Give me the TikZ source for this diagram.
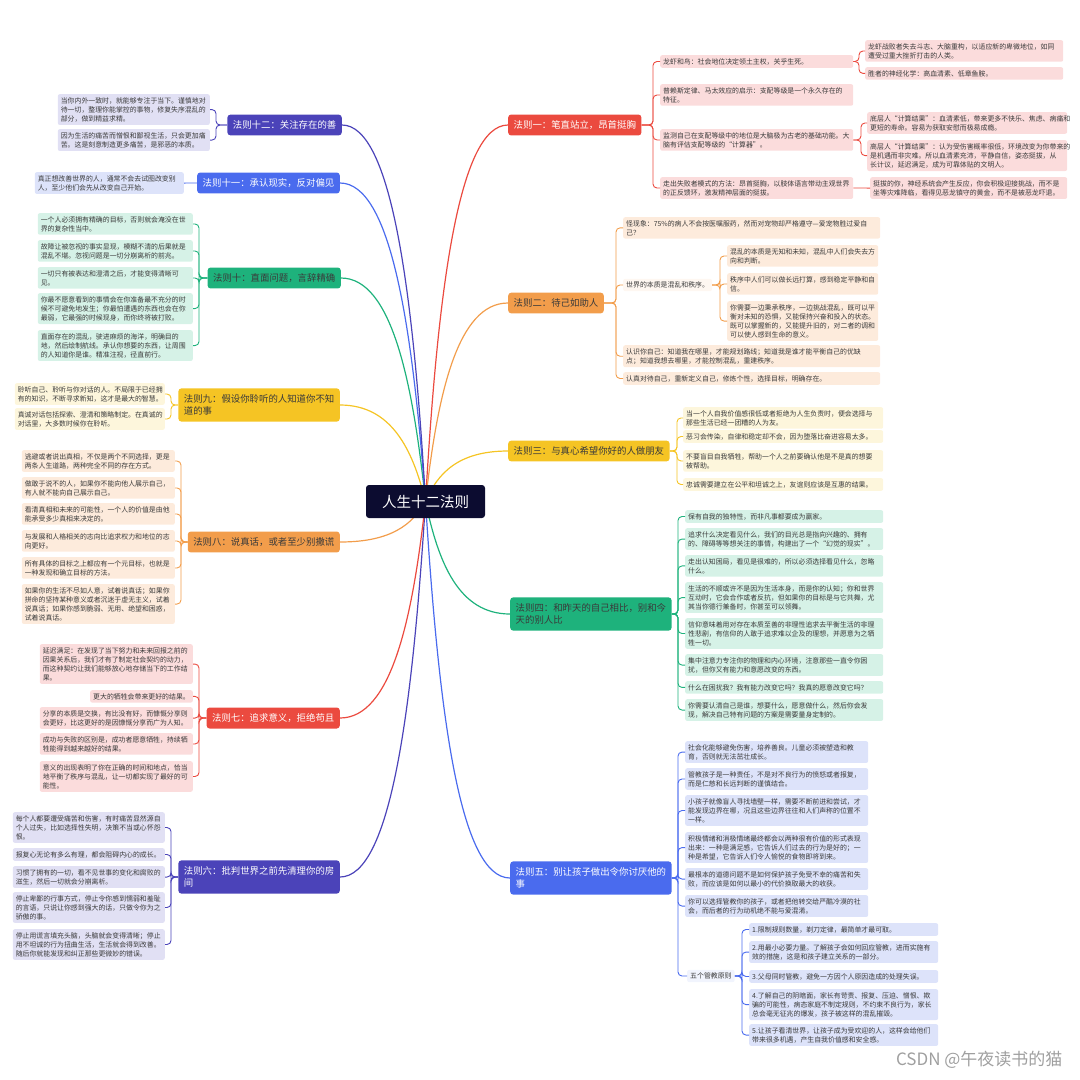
\documentclass[tikz,border=0pt]{standalone}
\usepackage{fontspec}
\setmainfont{Noto Sans CJK SC}
\usepackage{tikz}
\usetikzlibrary{backgrounds}

\definecolor{rootbg}{HTML}{0C0C30}
\definecolor{cred}{HTML}{EB4A3F}
\definecolor{cora}{HTML}{F29D4B}
\definecolor{cyel}{HTML}{F5C424}
\definecolor{cgrn}{HTML}{1EB27C}
\definecolor{cblu}{HTML}{4A6BEE}
\definecolor{cind}{HTML}{4B43B9}
\definecolor{bred}{HTML}{FBDCDC}
\definecolor{bora}{HTML}{FDEBDC}
\definecolor{byel}{HTML}{FDF6DC}
\definecolor{bgrn}{HTML}{D6F2E7}
\definecolor{bblu}{HTML}{DDE3FA}
\definecolor{bind}{HTML}{E1E0F4}
\definecolor{ink}{HTML}{3A3A3A}

\begin{document}
\begin{tikzpicture}[
    x=1pt,y=-1pt,
    root/.style={fill=rootbg, rounded corners=3pt, text=white, minimum width=119pt, minimum height=33pt, font=\fontsize{14.5}{16}\selectfont},
    law/.style={rounded corners=3pt, inner xsep=5.5pt, inner ysep=6pt, align=left, font=\fontsize{9.4}{12.5}\selectfont},
    item/.style={rounded corners=2pt, inner xsep=3pt, inner ysep=3pt, align=left, text=ink, font=\fontsize{6.9}{9.1}\selectfont, anchor=north west},
    trunk/.style={line width=1.2pt},
    bra/.style={line width=0.9pt, rounded corners=4pt}
]
    \path[use as bounding box] (0,0) rectangle (1080,1080);

    % --- Root ---
    \node[root] (ROOT) at (425.5,501.5) {人生十二法则};

    % --- Laws ---
    \node[law, fill=cred, text=white, anchor=west] (L1) at (508,125) {法则一：笔直站立，昂首挺胸};
    \node[law, fill=cora, text=ink, anchor=west] (L2) at (508,303) {法则二：待己如助人};
    \node[law, fill=cyel, text=ink, anchor=west] (L3) at (508,451) {法则三：与真心希望你好的人做朋友};
    \node[law, fill=cgrn, text=ink, anchor=west] (L4) at (510,614) {法则四：和昨天的自己相比，别和今\\天的别人比};
    \node[law, fill=cblu, text=white, anchor=west] (L5) at (510,878) {法则五：别让孩子做出令你讨厌他的\\事};
    \node[law, fill=cind, text=white, anchor=east] (L6) at (340,877) {法则六：批判世界之前先清理你的房\\间};
    \node[law, fill=cred, text=white, anchor=east] (L7) at (340,718) {法则七：追求意义，拒绝苟且};
    \node[law, fill=cora, text=ink, anchor=east] (L8) at (340,542) {法则八：说真话，或者至少别撒谎};
    \node[law, fill=cyel, text=ink, anchor=east] (L9) at (340,405) {法则九：假设你聆听的人知道你不知\\道的事};
    \node[law, fill=cgrn, text=ink, anchor=east] (L10) at (341,278) {法则十：直面问题，言辞精确};
    \node[law, fill=cblu, text=white, anchor=east] (L11) at (340,183) {法则十一：承认现实，反对偏见};
    \node[law, fill=cind, text=white, anchor=east] (L12) at (342,125) {法则十二：关注存在的善};

    % --- Trunks ---
    \begin{scope}[on background layer]
    \draw[trunk, cred] (ROOT.center) .. controls +(12,-207) and +(-50,0) .. (L1.west);
    \draw[trunk, cora] (ROOT.center) .. controls +(12,-109) and +(-50,0) .. (L2.west);
    \draw[trunk, cyel] (ROOT.center) .. controls +(12,-28) and +(-50,0) .. (L3.west);
    \draw[trunk, cgrn] (ROOT.center) .. controls +(13,62) and +(-51,0) .. (L4.west);
    \draw[trunk, cblu] (ROOT.center) .. controls +(13,207) and +(-51,0) .. (L5.west);
    \draw[trunk, cind] (ROOT.center) .. controls +(-13,207) and +(51,0) .. (L6.east);
    \draw[trunk, cred] (ROOT.center) .. controls +(-13,119) and +(51,0) .. (L7.east);
    \draw[trunk, cora] (ROOT.center) .. controls +(-13,23) and +(51,0) .. (L8.east);
    \draw[trunk, cyel] (ROOT.center) .. controls +(-13,-53) and +(51,0) .. (L9.east);
    \draw[trunk, cgrn] (ROOT.center) .. controls +(-13,-123) and +(50,0) .. (L10.east);
    \draw[trunk, cblu] (ROOT.center) .. controls +(-13,-175) and +(51,0) .. (L11.east);
    \draw[trunk, cind] (ROOT.center) .. controls +(-12,-207) and +(50,0) .. (L12.east);
    \end{scope}

    % --- Items for law 1 ---
    \node[item, fill=bred, text width=187pt] (l1_a) at (660,55) {龙虾和鸟：社会地位决定领土主权，关乎生死。};
    \node[item, fill=bred, text width=187pt] (l1_b) at (660,84) {普赖斯定律、马太效应的启示：支配等级是一个永久存在的\\特征。};
    \node[item, fill=bred, text width=187pt] (l1_c) at (660,129) {监测自己在支配等级中的地位是大脑极为古老的基础功能。大\\脑有评估支配等级的“计算器”。};
    \node[item, fill=bred, text width=187pt] (l1_d) at (660,177) {走出失败者模式的方法：昂首挺胸，以肢体语言带动主观世界\\的正反馈环，激发精神层面的挺拔。};
    \node[item, fill=bred, text width=192pt] (l1_a1) at (865,40) {龙虾战败者失去斗志、大脑重构，以适应新的卑微地位，如同\\遭受过重大挫折打击的人类。};
    \node[item, fill=bred, text width=192pt] (l1_a2) at (865,67) {胜者的神经化学：高血清素、低章鱼胺。};
    \node[item, fill=bred, text width=194pt] (l1_c1) at (867,112) {底层人“计算结果”：血清素低，带来更多不快乐、焦虑、病痛和\\更短的寿命。容易为获取安慰而极易成瘾。};
    \node[item, fill=bred, text width=194pt] (l1_c2) at (867,140) {高层人“计算结果”：认为受伤害概率很低，环境改变为你带来的\\是机遇而非灾难。所以血清素充沛，平静自信，姿态挺拔，从\\长计议，延迟满足，成为可靠体贴的文明人。};
    \node[item, fill=bred, text width=191pt] (l1_d1) at (870,177) {挺拔的你，神经系统会产生反应，你会积极迎接挑战，而不是\\坐等灾难降临，看得见恶龙镇守的黄金，而不是被恶龙吓退。};

    \draw[bra, cred] (L1.east) -| ([xshift=-7pt]l1_a.west) -- (l1_a.west);
    \draw[bra, cred] (L1.east) -| ([xshift=-7pt]l1_b.west) -- (l1_b.west);
    \draw[bra, cred] (L1.east) -| ([xshift=-7pt]l1_c.west) -- (l1_c.west);
    \draw[bra, cred] (L1.east) -| ([xshift=-7pt]l1_d.west) -- (l1_d.west);
    \draw[bra, cred] (l1_a.east) -| ([xshift=-6pt]l1_a1.west) -- (l1_a1.west);
    \draw[bra, cred] (l1_a.east) -| ([xshift=-6pt]l1_a2.west) -- (l1_a2.west);
    \draw[bra, cred] (l1_c.east) -| ([xshift=-6pt]l1_c1.west) -- (l1_c1.west);
    \draw[bra, cred] (l1_c.east) -| ([xshift=-6pt]l1_c2.west) -- (l1_c2.west);
    \draw[bra, cred] (l1_d.east) -- (l1_d1.west);

    % --- Items for law 2 ---
    \node[item, fill=bora, text width=251pt] (l2_a) at (623,217) {怪现象：75\%的病人不会按医嘱服药，然而对宠物却严格遵守—爱宠物胜过爱自\\己？};
    \node[item, fill=bora!40, anchor=west] (l2_b) at (623,285) {世界的本质是混乱和秩序。};
    \node[item, fill=bora, text width=251pt] (l2_c) at (623,345) {认识你自己：知道我在哪里，才能规划路线；知道我是谁才能平衡自己的优缺\\点；知道我想去哪里，才能控制混乱，重建秩序。};
    \node[item, fill=bora, text width=251pt] (l2_d) at (623,372) {认真对待自己，重新定义自己，修炼个性，选择目标，明确存在。};
    \node[item, fill=bora, text width=145pt] (l2_b1) at (727,245) {混乱的本质是无知和未知，混乱中人们会失去方\\向和判断。};
    \node[item, fill=bora, text width=145pt] (l2_b2) at (727,273) {秩序中人们可以做长远打算，感到稳定平静和自\\信。};
    \node[item, fill=bora, text width=145pt] (l2_b3) at (727,301) {你需要一边秉承秩序，一边挑战混乱，既可以平\\衡对未知的恐惧，又能保持兴奋和投入的状态。\\既可以掌握新的，又能提升旧的，对二者的调和\\可以使人感到生命的意义。};

    \draw[bra, cora] (L2.east) -| ([xshift=-7pt]l2_a.west) -- (l2_a.west);
    \draw[bra, cora] (L2.east) -| ([xshift=-7pt]l2_b.west) -- (l2_b.west);
    \draw[bra, cora] (L2.east) -| ([xshift=-7pt]l2_c.west) -- (l2_c.west);
    \draw[bra, cora] (L2.east) -| ([xshift=-7pt]l2_d.west) -- (l2_d.west);
    \draw[bra, cora] (l2_b.east) -| ([xshift=-7pt]l2_b1.west) -- (l2_b1.west);
    \draw[bra, cora] (l2_b.east) -| ([xshift=-7pt]l2_b2.west) -- (l2_b2.west);
    \draw[bra, cora] (l2_b.east) -| ([xshift=-7pt]l2_b3.west) -- (l2_b3.west);

    % --- Items for law 3 ---
    \node[item, fill=byel, text width=194pt] (l3_a) at (683,407) {当一个人自我价值感很低或者拒绝为人生负责时，便会选择与\\那些生活已经一团糟的人为友。};
    \node[item, fill=byel, text width=194pt] (l3_b) at (683,430) {恶习会传染，自律和稳定却不会，因为堕落比奋进容易太多。};
    \node[item, fill=byel, text width=194pt] (l3_c) at (683,450) {不要盲目自我牺牲，帮助一个人之前要确认他是不是真的想要\\被帮助。};
    \node[item, fill=byel, text width=194pt] (l3_d) at (683,478) {忠诚需要建立在公平和坦诚之上，友谊则应该是互惠的结果。};

    \draw[bra, cyel] (L3.east) -| ([xshift=-6pt]l3_a.west) -- (l3_a.west);
    \draw[bra, cyel] (L3.east) -| ([xshift=-6pt]l3_b.west) -- (l3_b.west);
    \draw[bra, cyel] (L3.east) -| ([xshift=-6pt]l3_c.west) -- (l3_c.west);
    \draw[bra, cyel] (L3.east) -| ([xshift=-6pt]l3_d.west) -- (l3_d.west);

    % --- Items for law 4 ---
    \node[item, fill=bgrn, text width=192pt] (l4_a) at (685,510) {保有自我的独特性，而非凡事都要成为赢家。};
    \node[item, fill=bgrn, text width=192pt] (l4_b) at (685,528) {追求什么决定看见什么，我们的目光总是指向兴趣的、拥有\\的、障碍等等想关注的事情，构建出了一个“幻觉的现实”。};
    \node[item, fill=bgrn, text width=192pt] (l4_c) at (685,555) {走出认知困局，看见是很难的，所以必须选择看见什么，忽略\\什么。};
    \node[item, fill=bgrn, text width=192pt] (l4_d) at (685,582) {生活的不顺或许不是因为生活本身，而是你的认知；你和世界\\互动时，它会合作或者反抗，但如果你的目标是与它共舞，尤\\其当你德行兼备时，你甚至可以领舞。};
    \node[item, fill=bgrn, text width=192pt] (l4_e) at (685,618) {信仰意味着用对存在本质至善的非理性追求去平衡生活的非理\\性悲剧，有信仰的人敢于追求难以企及的理想，并愿意为之牺\\牲一切。};
    \node[item, fill=bgrn, text width=192pt] (l4_f) at (685,654) {集中注意力专注你的物理和内心环境，注意那些一直令你困\\扰，但你又有能力和意愿改变的东西。};
    \node[item, fill=bgrn, text width=192pt] (l4_g) at (685,681) {什么在困扰我？我有能力改变它吗？我真的愿意改变它吗？};
    \node[item, fill=bgrn, text width=192pt] (l4_h) at (685,699) {你需要认清自己是谁，想要什么，愿意做什么，然后你会发\\现，解决自己特有问题的方案是需要量身定制的。};

    \draw[bra, cgrn] (L4.east) -| ([xshift=-7pt]l4_a.west) -- (l4_a.west);
    \draw[bra, cgrn] (L4.east) -| ([xshift=-7pt]l4_b.west) -- (l4_b.west);
    \draw[bra, cgrn] (L4.east) -| ([xshift=-7pt]l4_c.west) -- (l4_c.west);
    \draw[bra, cgrn] (L4.east) -| ([xshift=-7pt]l4_d.west) -- (l4_d.west);
    \draw[bra, cgrn] (L4.east) -| ([xshift=-7pt]l4_e.west) -- (l4_e.west);
    \draw[bra, cgrn] (L4.east) -| ([xshift=-7pt]l4_f.west) -- (l4_f.west);
    \draw[bra, cgrn] (L4.east) -| ([xshift=-7pt]l4_g.west) -- (l4_g.west);
    \draw[bra, cgrn] (L4.east) -| ([xshift=-7pt]l4_h.west) -- (l4_h.west);

    % --- Items for law 5 ---
    \node[item, fill=bblu, text width=177pt] (l5_a) at (685,741) {社会化能够避免伤害，培养善良。儿童必须被塑造和教\\育，否则就无法茁壮成长。};
    \node[item, fill=bblu, text width=177pt] (l5_b) at (685,768) {管教孩子是一种责任，不是对不良行为的愤怒或者报复，\\而是仁慈和长远判断的谨慎结合。};
    \node[item, fill=bblu, text width=177pt] (l5_c) at (685,795) {小孩子就像盲人寻找墙壁一样，需要不断前进和尝试，才\\能发现边界在哪，况且这些边界往往和人们声称的位置不\\一样。};
    \node[item, fill=bblu, text width=177pt] (l5_d) at (685,832) {积极情绪和消极情绪最终都会以两种很有价值的形式表现\\出来：一种是满足感，它告诉人们过去的行为是好的；一\\种是希望，它告诉人们令人愉悦的食物即将到来。};
    \node[item, fill=bblu, text width=177pt] (l5_e) at (685,868) {最根本的道德问题不是如何保护孩子免受不幸的痛苦和失\\败，而应该是如何以最小的代价换取最大的收获。};
    \node[item, fill=bblu, text width=177pt] (l5_f) at (685,895) {你可以选择管教你的孩子，或者把他转交给严酷冷漠的社\\会，而后者的行为动机绝不能与爱混淆。};
    \node[item, fill=bblu!40, anchor=west] (l5_g) at (687,976) {五个管教原则};
    \node[item, fill=bblu, text width=183pt] (l5_g1) at (749,923) {1.限制规则数量，剃刀定律，最简单才最可取。};
    \node[item, fill=bblu, text width=183pt] (l5_g2) at (749,941) {2.用最小必要力量。了解孩子会如何回应管教，进而实施有\\效的措施，这是和孩子建立关系的一部分。};
    \node[item, fill=bblu, text width=183pt] (l5_g3) at (749,970) {3.父母同时管教，避免一方因个人原因造成的处理失误。};
    \node[item, fill=bblu, text width=183pt] (l5_g4) at (749,989) {4.了解自己的阴暗面，家长有苛责、报复、压迫、憎恨、欺\\骗的可能性，病态家庭不制定规则，不约束不良行为，家长\\总会毫无征兆的爆发，孩子被这样的混乱摧毁。};
    \node[item, fill=bblu, text width=183pt] (l5_g5) at (749,1024) {5.让孩子看清世界，让孩子成为受欢迎的人，这样会给他们\\带来很多机遇，产生自我价值感和安全感。};

    \draw[bra, cblu] (L5.east) -| ([xshift=-7pt]l5_a.west) -- (l5_a.west);
    \draw[bra, cblu] (L5.east) -| ([xshift=-7pt]l5_b.west) -- (l5_b.west);
    \draw[bra, cblu] (L5.east) -| ([xshift=-7pt]l5_c.west) -- (l5_c.west);
    \draw[bra, cblu] (L5.east) -| ([xshift=-7pt]l5_d.west) -- (l5_d.west);
    \draw[bra, cblu] (L5.east) -| ([xshift=-7pt]l5_e.west) -- (l5_e.west);
    \draw[bra, cblu] (L5.east) -| ([xshift=-7pt]l5_f.west) -- (l5_f.west);
    \draw[bra, cblu] (L5.east) -| ([xshift=-9pt]l5_g.west) -- (l5_g.west);
    \draw[bra, cblu] (l5_g.east) -| ([xshift=-7pt]l5_g1.west) -- (l5_g1.west);
    \draw[bra, cblu] (l5_g.east) -| ([xshift=-7pt]l5_g2.west) -- (l5_g2.west);
    \draw[bra, cblu] (l5_g.east) -| ([xshift=-7pt]l5_g3.west) -- (l5_g3.west);
    \draw[bra, cblu] (l5_g.east) -| ([xshift=-7pt]l5_g4.west) -- (l5_g4.west);
    \draw[bra, cblu] (l5_g.east) -| ([xshift=-7pt]l5_g5.west) -- (l5_g5.west);

    % --- Items for law 6 ---
    \node[item, fill=bind, text width=146pt, anchor=north east] (l6_a) at (165,812) {每个人都要遭受痛苦和伤害，有时痛苦显然源自\\个人过失，比如选择性失明，决策不当或心怀怨\\恨。};
    \node[item, fill=bind, text width=146pt, anchor=north east] (l6_b) at (165,848) {报复心无论有多么有理，都会阻碍内心的成长。};
    \node[item, fill=bind, text width=146pt, anchor=north east] (l6_c) at (165,866) {习惯了拥有的一切，看不见世事的变化和腐败的\\滋生，然后一切就会分崩离析。};
    \node[item, fill=bind, text width=146pt, anchor=north east] (l6_d) at (165,892) {停止卑鄙的行事方式，停止令你感到懦弱和羞耻\\的言语，只说让你感到强大的话，只做令你为之\\骄傲的事。};
    \node[item, fill=bind, text width=146pt, anchor=north east] (l6_e) at (165,929) {停止用谎言填充头脑，头脑就会变得清晰；停止\\用不坦诚的行为扭曲生活，生活就会得到改善。\\随后你就能发现和纠正那些更微妙的错误。};

    \draw[bra, cind] (L6.west) -| ([xshift=6pt]l6_a.east) -- (l6_a.east);
    \draw[bra, cind] (L6.west) -| ([xshift=6pt]l6_b.east) -- (l6_b.east);
    \draw[bra, cind] (L6.west) -| ([xshift=6pt]l6_c.east) -- (l6_c.east);
    \draw[bra, cind] (L6.west) -| ([xshift=6pt]l6_d.east) -- (l6_d.east);
    \draw[bra, cind] (L6.west) -| ([xshift=6pt]l6_e.east) -- (l6_e.east);

    % --- Items for law 7 ---
    \node[item, fill=bred, text width=147pt, anchor=north east] (l7_a) at (193,644) {延迟满足：在发现了当下努力和未来回报之前的\\因果关系后，我们才有了制定社会契约的动力，\\而这种契约让我们能够放心地存储当下的工作结\\果。};
    \node[item, fill=bred, anchor=north east] (l7_b) at (193,690) {更大的牺牲会带来更好的结果。};
    \node[item, fill=bred, text width=147pt, anchor=north east] (l7_c) at (193,707) {分享的本质是交换，有比没有好，而慷慨分享则\\会更好，比这更好的是因慷慨分享而广为人知。};
    \node[item, fill=bred, text width=147pt, anchor=north east] (l7_d) at (193,733) {成功与失败的区别是，成功者愿意牺牲，持续牺\\牲能得到越来越好的结果。};
    \node[item, fill=bred, text width=147pt, anchor=north east] (l7_e) at (193,761) {意义的出现表明了你在正确的时间和地点，恰当\\地平衡了秩序与混乱，让一切都实现了最好的可\\能性。};

    \draw[bra, cred] (L7.west) -| ([xshift=6pt]l7_a.east) -- (l7_a.east);
    \draw[bra, cred] (L7.west) -| ([xshift=6pt]l7_b.east) -- (l7_b.east);
    \draw[bra, cred] (L7.west) -| ([xshift=6pt]l7_c.east) -- (l7_c.east);
    \draw[bra, cred] (L7.west) -| ([xshift=6pt]l7_d.east) -- (l7_d.east);
    \draw[bra, cred] (L7.west) -| ([xshift=6pt]l7_e.east) -- (l7_e.east);

    % --- Items for law 8 ---
    \node[item, fill=bora, text width=147pt, anchor=north east] (l8_a) at (175,450) {逃避或者说出真相，不仅是两个不同选择，更是\\两条人生道路，两种完全不同的存在方式。};
    \node[item, fill=bora, text width=147pt, anchor=north east] (l8_b) at (175,477) {做敢于说不的人，如果你不能向他人展示自己，\\有人就不能向自己展示自己。};
    \node[item, fill=bora, text width=147pt, anchor=north east] (l8_c) at (175,503) {看清真相和未来的可能性，一个人的价值是由他\\能承受多少真相来决定的。};
    \node[item, fill=bora, text width=147pt, anchor=north east] (l8_d) at (175,530) {与发展和人格相关的志向比追求权力和地位的志\\向更好。};
    \node[item, fill=bora, text width=147pt, anchor=north east] (l8_e) at (175,557) {所有具体的目标之上都应有一个元目标，也就是\\一种发现和确立目标的方法。};
    \node[item, fill=bora, text width=147pt, anchor=north east] (l8_f) at (175,584) {如果你的生活不尽如人意，试着说真话；如果你\\拼命的坚持某种意义或者沉迷于虚无主义，试着\\说真话；如果你感到脆弱、无用、绝望和困惑，\\试着说真话。};

    \draw[bra, cora] (L8.west) -| ([xshift=6pt]l8_a.east) -- (l8_a.east);
    \draw[bra, cora] (L8.west) -| ([xshift=6pt]l8_b.east) -- (l8_b.east);
    \draw[bra, cora] (L8.west) -| ([xshift=6pt]l8_c.east) -- (l8_c.east);
    \draw[bra, cora] (L8.west) -| ([xshift=6pt]l8_d.east) -- (l8_d.east);
    \draw[bra, cora] (L8.west) -| ([xshift=6pt]l8_e.east) -- (l8_e.east);
    \draw[bra, cora] (L8.west) -| ([xshift=6pt]l8_f.east) -- (l8_f.east);

    % --- Items for law 9 ---
    \node[item, fill=byel, text width=144pt, anchor=north east] (l9_a) at (165,383) {聆听自己、聆听与你对话的人。不局限于已经拥\\有的知识，不断寻求新知，这才是最大的智慧。};
    \node[item, fill=byel, text width=144pt, anchor=north east] (l9_b) at (165,408) {真诚对话包括探索、澄清和策略制定。在真诚的\\对话里，大多数时候你在聆听。};

    \draw[bra, cyel] (L9.west) -| ([xshift=6pt]l9_a.east) -- (l9_a.east);
    \draw[bra, cyel] (L9.west) -| ([xshift=6pt]l9_b.east) -- (l9_b.east);

    % --- Items for law 10 ---
    \node[item, fill=bgrn, text width=149pt, anchor=north east] (l10_a) at (193,213) {一个人必须拥有精确的目标，否则就会淹没在世\\界的复杂性当中。};
    \node[item, fill=bgrn, text width=149pt, anchor=north east] (l10_b) at (193,240) {故障让被忽视的事实显现，模糊不清的后果就是\\混乱不堪。忽视问题是一切分崩离析的前兆。};
    \node[item, fill=bgrn, text width=149pt, anchor=north east] (l10_c) at (193,267) {一切只有被表达和澄清之后，才能变得清晰可\\见。};
    \node[item, fill=bgrn, text width=149pt, anchor=north east] (l10_d) at (193,293) {你最不愿意看到的事情会在你准备最不充分的时\\候不可避免地发生；你最怕遭遇的东西也会在你\\最弱，它最强的时候现身，而你终将被打败。};
    \node[item, fill=bgrn, text width=149pt, anchor=north east] (l10_e) at (193,330) {直面存在的混乱，驶进麻烦的海洋，明确目的\\地，然后绘制航线。承认你想要的东西，让周围\\的人知道你是谁。精准注视，径直前行。};

    \draw[bra, cgrn] (L10.west) -| ([xshift=6pt]l10_a.east) -- (l10_a.east);
    \draw[bra, cgrn] (L10.west) -| ([xshift=6pt]l10_b.east) -- (l10_b.east);
    \draw[bra, cgrn] (L10.west) -| ([xshift=6pt]l10_c.east) -- (l10_c.east);
    \draw[bra, cgrn] (L10.west) -| ([xshift=6pt]l10_d.east) -- (l10_d.east);
    \draw[bra, cgrn] (L10.west) -| ([xshift=6pt]l10_e.east) -- (l10_e.east);

    % --- Items for law 11 ---
    \node[item, fill=bblu, text width=143pt, anchor=north east] (l11_a) at (184,172) {真正想改善世界的人，通常不会去试图改变别\\人，至少他们会先从改变自己开始。};

    \draw[bra, cblu] (L11.west) -- (l11_a.east);

    % --- Items for law 12 ---
    \node[item, fill=bind, text width=146pt, anchor=north east] (l12_a) at (210,94) {当你内外一致时，就能够专注于当下。谨慎地对\\待一切，整理你能掌控的事物，修复失序混乱的\\部分，做到精益求精。};
    \node[item, fill=bind, text width=146pt, anchor=north east] (l12_b) at (210,129) {因为生活的痛苦而憎恨和鄙视生活，只会更加痛\\苦。这是刻意制造更多痛苦，是邪恶的本质。};

    \draw[bra, cind] (L12.west) -| ([xshift=6pt]l12_a.east) -- (l12_a.east);
    \draw[bra, cind] (L12.west) -| ([xshift=6pt]l12_b.east) -- (l12_b.east);

    % --- Watermark ---
    \node[anchor=east, text=gray!75, font=\fontsize{17}{20}\selectfont] (mark) at (1066,1060) {CSDN @午夜读书的猫};

\end{tikzpicture}
\end{document}
